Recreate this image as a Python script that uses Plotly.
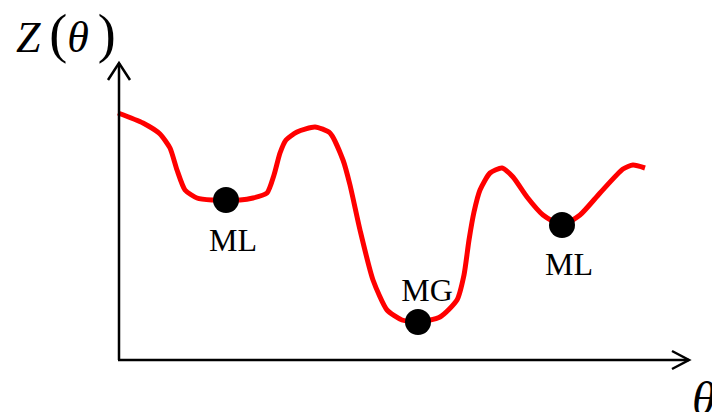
import plotly.graph_objects as go

# Energy landscape Z(theta): sampled curve in canvas units (x right, y down)
theta = [118, 143, 160, 170, 177, 185, 197, 212, 226, 240, 253, 267, 274, 280, 286,
         297, 315, 330, 343, 350, 360, 373, 387, 402, 418, 440, 457, 464, 469, 474,
         480, 490, 502, 513, 527, 543, 562, 580, 600, 623, 633, 645]
z = [113, 123, 134, 148, 170, 190, 198, 200, 200, 200, 198, 193, 175, 153, 140,
     132, 127, 133, 160, 185, 230, 280, 310, 320, 322, 317, 300, 275, 240, 212,
     190, 173, 168, 177, 197, 215, 225, 215, 193, 169, 165, 168]

# Minima: local (ML) and global (MG)
min_theta = [226, 418, 562]
min_z = [200, 322, 225]
min_labels = ["ML", "MG", "ML"]
label_theta = [233, 427, 569]
label_z = [243, 293, 267]

fig = go.Figure()

fig.add_trace(go.Scatter(
    x=theta, y=z, mode="lines",
    line=dict(color="#ff0000", width=5, shape="spline", smoothing=0.6),
    hoverinfo="skip", showlegend=False,
))

fig.add_trace(go.Scatter(
    x=min_theta, y=min_z, mode="markers",
    marker=dict(color="black", size=26),
    hoverinfo="skip", showlegend=False,
))

fig.add_trace(go.Scatter(
    x=label_theta, y=label_z, mode="text", text=min_labels,
    textfont=dict(family="Liberation Serif", size=32, color="black"),
    textposition="middle center",
    hoverinfo="skip", showlegend=False,
))

axis_line = dict(color="black", width=2.5)
shapes = [
    # vertical axis with open arrow head
    dict(type="line", x0=119, y0=360, x1=119, y1=63, xref="x", yref="y", line=axis_line),
    dict(type="path", path="M 108,80 L 119,63 L 130,80", xref="x", yref="y", line=axis_line),
    # horizontal axis with open arrow head
    dict(type="line", x0=118, y0=360, x1=689, y1=360, xref="x", yref="y", line=axis_line),
    dict(type="path", path="M 672,351 L 689,360 L 672,369", xref="x", yref="y", line=axis_line),
]

paren = "<span style='font-size:54px'>{}</span>"
annotations = [
    dict(x=14, y=34, xref="x", yref="y", xanchor="left", yanchor="middle", showarrow=False,
         text="<i>Z</i>\u2009" + paren.format("(") + "<i>θ</i>\u2009" + paren.format(")"),
         font=dict(family="Liberation Serif", size=44, color="black")),
    dict(x=690, y=398, xref="x", yref="y", xanchor="left", yanchor="middle", showarrow=False,
         text="<i>θ</i>",
         font=dict(family="Liberation Serif", size=48, color="black")),
]

fig.update_layout(
    width=712, height=412,
    margin=dict(l=0, r=0, t=0, b=0),
    paper_bgcolor="white", plot_bgcolor="white",
    xaxis=dict(range=[0, 712], visible=False, fixedrange=True),
    yaxis=dict(range=[412, 0], visible=False, fixedrange=True),
    shapes=shapes, annotations=annotations,
    showlegend=False,
)

fig.write_html("out.html")
